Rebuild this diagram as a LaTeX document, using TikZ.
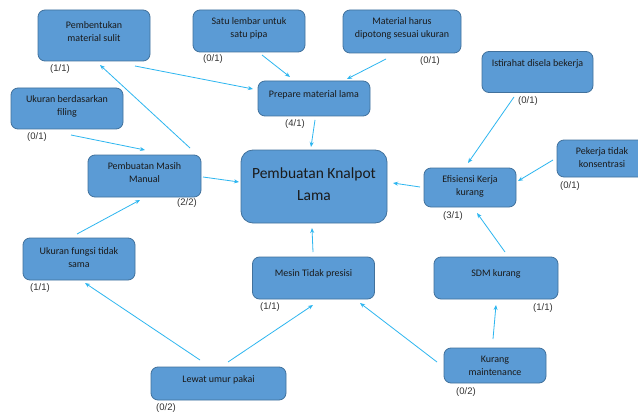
\documentclass[tikz,border=0pt]{standalone}
\usepackage{fontspec}
\setmainfont{Carlito}
\newfontfamily\lblfont{Liberation Sans}
\usetikzlibrary{calc,arrows.meta}
\definecolor{boxfill}{HTML}{5B9BD5}
\definecolor{boxline}{HTML}{41719C}
\definecolor{arrcol}{HTML}{2DB6F0}
\definecolor{txtcol}{HTML}{1A1A1A}
\definecolor{lblcol}{HTML}{333333}
\newcommand\bx[7]{%
  \node[boxnode,minimum width=#4pt,minimum height=#5pt] (#1) at (#2,#3) {};
  \node[boxtext] (#1t) at ($(#1)+(0,#6)$) {#7};}
\begin{document}
\begin{tikzpicture}[x=1pt,y=-1pt,
  boxnode/.style={draw=boxline,line width=0.8pt,fill=boxfill,rounded corners=7pt,inner sep=0pt},
  boxtext/.style={text=txtcol,font=\fontsize{10}{13}\selectfont,align=center,inner sep=0pt},
  lbl/.style={text=lblcol,font=\lblfont\fontsize{9.5}{11}\selectfont,inner sep=0pt},
  arr/.style={draw=arrcol,line width=0.8pt,-{Stealth[length=5pt,width=4pt]}}]
\useasboundingbox (0,0) rectangle (638,412);
\fill[white] (0,0) rectangle (638,412);
% boxes
\bx{pb}{94}{35.5}{112}{51}{-4}{Pembentukan\\material sulit}
\bx{sl}{249}{31}{112}{42}{-2.5}{Satu lembar untuk\\satu pipa}
\bx{mh}{402}{31.5}{118}{43}{-3}{Material harus\\dipotong sesuai ukuran}
\bx{pm}{314}{98.5}{112}{35}{-4}{Prepare material lama}
\bx{ist}{537.5}{72}{111}{41}{-8}{Istirahat disela bekerja}
\bx{ub}{67}{108.5}{112}{41}{-2.5}{Ukuran berdasarkan\\filing}
\bx{mm}{144.5}{176}{113}{42}{-3}{Pembuatan Masih\\Manual}
\node[boxnode,rounded corners=12pt,minimum width=146pt,minimum height=73pt] (ct) at (314,186.5) {};
\node[boxtext,font=\fontsize{15.5}{22}\selectfont] (ctt) at ($(ct)+(0,-2.5)$) {Pembuatan Knalpot\\Lama};
\bx{pk}{602}{158.5}{90}{37}{-1}{Pekerja tidak\\konsentrasi}
\bx{ef}{470}{187.5}{92}{39}{-1}{Efisiensi Kerja\\kurang}
\bx{uf}{79}{259}{112}{42}{-1.5}{Ukuran fungsi tidak\\sama}
\bx{ms}{313.5}{278}{122}{42}{-4.5}{Mesin Tidak presisi}
\bx{sdm}{496}{278}{124}{42}{-4.5}{SDM kurang}
\bx{lw}{218.5}{383.5}{135}{33}{-3.5}{Lewat umur pakai}
\bx{km}{495}{365.5}{102}{35}{0.5}{Kurang\\maintenance}
% labels
\node[lbl] (lpb) at (60,69) {(1/1)};
\node[lbl] (lsl) at (213,59) {(0/1)};
\node[lbl] (lmh) at (430,61) {(0/1)};
\node[lbl] (lpm) at (295,124) {(4/1)};
\node[lbl] (list) at (528,101) {(0/1)};
\node[lbl] (lub) at (37,137) {(0/1)};
\node[lbl] (lmm) at (187,203) {(2/2)};
\node[lbl] (lpk) at (570,186) {(0/1)};
\node[lbl] (lef) at (453,216) {(3/1)};
\node[lbl] (luf) at (40,288) {(1/1)};
\node[lbl] (lms) at (270,307) {(1/1)};
\node[lbl] (lsdm) at (543,308) {(1/1)};
\node[lbl] (llw) at (166,408) {(0/2)};
\node[lbl] (lkm) at (466,392) {(0/2)};
% arrows
\draw[arr] ($(pb)+(41,30.5)$) -- ($(pm)+(-61,-9.5)$);
\draw[arr] ($(sl)+(13,24)$) -- ($(pm)+(-24,-21.5)$);
\draw[arr] ($(mh)+(-16,27.5)$) -- ($(pm)+(33,-19.5)$);
\draw[arr] ($(pm)+(1,21.5)$) -- ($(ct)+(-3,-39.5)$);
\draw[arr] ($(mm)+(45.5,-28)$) -- ($(pb)+(6,29.5)$);
\draw[arr] ($(ub)+(4,26.5)$) -- ($(mm)+(0.5,-26)$);
\draw[arr] ($(mm)+(58.5,1)$) -- ($(ct)+(-75,-4.5)$);
\draw[arr] ($(uf)+(-2,-25)$) -- ($(mm)+(-4.5,24)$);
\draw[arr] ($(lw)+(-18.5,-23.5)$) -- ($(uf)+(6,24)$);
\draw[arr] ($(lw)+(9.5,-21.5)$) -- ($(ms)+(-0.5,27)$);
\draw[arr] ($(ms)+(-0.5,-26)$) -- ($(ct)+(-2,41.5)$);
\draw[arr] ($(km)+(-58,-3.5)$) -- ($(ms)+(46.5,25)$);
\draw[arr] ($(km)+(-2,-26.5)$) -- ($(sdm)+(0,27)$);
\draw[arr] ($(sdm)+(9,-26)$) -- ($(ef)+(7,25.5)$);
\draw[arr] ($(ef)+(-50,-0.5)$) -- ($(ct)+(79,-3.5)$);
\draw[arr] ($(ist)+(-23.5,25)$) -- ($(ef)+(-2,-24.5)$);
\draw[arr] ($(pk)+(-49,1.5)$) -- ($(ef)+(48,-6.5)$);
\end{tikzpicture}
\end{document}
